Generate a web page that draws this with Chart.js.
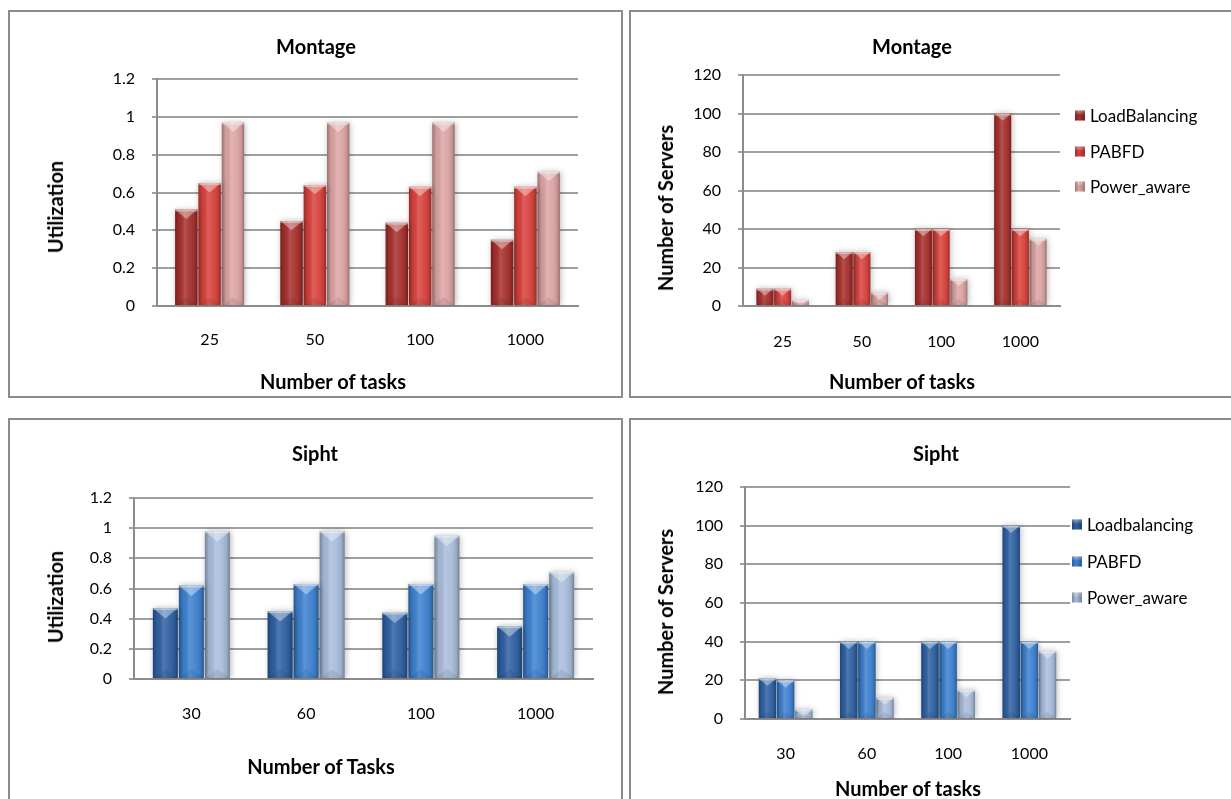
<!DOCTYPE html>
<html>
<head>
<meta charset="utf-8">
<script src="https://cdn.jsdelivr.net/npm/chart.js@4.4.1/dist/chart.umd.min.js"></script>
<style>
  body { margin: 0; width: 1231px; height: 799px; overflow: hidden; background: #fff; position: relative; font-family: Lato, sans-serif; color: #000; }
  .panel { position: absolute; border: 2px solid #8c8c8c; box-sizing: border-box; overflow: hidden; background: #fff; }
  .panel canvas { position: absolute; left: 0; top: 0; }
  .txt { position: absolute; transform: translate(-50%, -50%); white-space: nowrap; font-weight: 700; font-size: 20px; }
  .vert { transform: translate(-50%, -50%) rotate(-90deg); }
  .item { position: absolute; transform: translateY(-50%); white-space: nowrap; font-size: 17px; display: flex; align-items: center; }
  .marca { display: inline-block; width: 10px; height: 10px; margin-right: 5px; }
</style>
</head>
<body>
<script>
// Datos de las pruebas
const tareasMontage = ['25', '50', '100', '1000'];
const tareasSipht = ['30', '60', '100', '1000'];

const seriesMontage = ['LoadBalancing', 'PABFD', 'Power_aware'];
const seriesSipht = ['Loadbalancing', 'PABFD', 'Power_aware'];

const montageUtilLB = [0.51, 0.45, 0.44, 0.35];
const montageUtilPABFD = [0.65, 0.64, 0.63, 0.63];
const montageUtilPA = [0.97, 0.97, 0.97, 0.71];

const montageServLB = [9, 28, 40, 100];
const montageServPABFD = [9, 28, 40, 40];
const montageServPA = [3, 7, 14, 35];

const siphtUtilLB = [0.47, 0.45, 0.44, 0.35];
const siphtUtilPABFD = [0.62, 0.63, 0.63, 0.63];
const siphtUtilPA = [0.98, 0.98, 0.95, 0.71];

const siphtServLB = [21, 40, 40, 100];
const siphtServPABFD = [20, 40, 40, 40];
const siphtServPA = [5, 11, 15, 35];

const marcasUtil = ['0', '0.2', '0.4', '0.6', '0.8', '1', '1.2'];
const marcasServ = ['0', '20', '40', '60', '80', '100', '120'];

const rojos = ['#a62f2c', '#d8413c', '#dca4a3'];
const azules = ['#2e60a2', '#3d81d0', '#a8bcdb'];

// Sombreado de las barras (efecto cilindro)
const sombreado = {
  id: 'sombreado',
  beforeDatasetsDraw(chart) {
    const c = chart.ctx;
    c.save();
    c.shadowColor = 'rgba(0,0,0,0.28)';
    c.shadowBlur = 6;
    c.shadowOffsetX = 1;
  },
  afterDatasetsDraw(chart) {
    const c = chart.ctx;
    c.restore();
    chart.data.datasets.forEach((ds, i) => {
      chart.getDatasetMeta(i).data.forEach(bar => {
        const { x, y, base, width } = bar.getProps(['x', 'y', 'base', 'width'], true);
        const l = x - width / 2, r = x + width / 2, h = base - y;
        const g = c.createLinearGradient(l, 0, r, 0);
        g.addColorStop(0, 'rgba(0,0,0,0.30)');
        g.addColorStop(0.18, 'rgba(0,0,0,0.04)');
        g.addColorStop(0.42, 'rgba(255,255,255,0.16)');
        g.addColorStop(0.65, 'rgba(255,255,255,0.06)');
        g.addColorStop(0.88, 'rgba(0,0,0,0.10)');
        g.addColorStop(1, 'rgba(0,0,0,0.32)');
        c.fillStyle = g;
        c.fillRect(l, y, width, h);
        // tapa de arriba
        const d = Math.min(width * 0.42, h);
        c.beginPath();
        c.moveTo(l, y); c.lineTo(r, y); c.lineTo(x, y + d); c.closePath();
        c.fillStyle = 'rgba(255,255,255,0.38)';
        c.fill();
        c.fillStyle = 'rgba(255,255,255,0.35)';
        c.fillRect(l, y, width, 2);
        // base
        const b = Math.min(width * 0.35, h / 2);
        c.beginPath();
        c.moveTo(l, base); c.lineTo(r, base); c.lineTo(x, base - b); c.closePath();
        c.fillStyle = 'rgba(0,0,0,0.08)';
        c.fill();
      });
    });
  }
};

const graficos = [
  {
    caja: [8, 10, 615, 388], lienzo: [611, 384], area: [147, 568, 67, 294], padX: 16, cat: 0.665,
    titulo: ['Montage', 316, 46], ejeY: ['Utilization', 55, 207], ejeX: ['Number of tasks', 333, 381],
    etiquetas: tareasMontage, nombres: seriesMontage, valores: [montageUtilLB, montageUtilPABFD, montageUtilPA],
    colores: rojos, max: 1.2, paso: 0.2, marcas: marcasUtil
  },
  {
    caja: [629, 10, 610, 388], lienzo: [600, 384], area: [112, 429, 63, 294], padX: 18, cat: 0.67,
    titulo: ['Montage', 912, 46], ejeY: ['Number of Servers', 665, 208], ejeX: ['Number of tasks', 902, 381],
    etiquetas: tareasMontage, nombres: seriesMontage, valores: [montageServLB, montageServPABFD, montageServPA],
    colores: rojos, max: 120, paso: 20, marcas: marcasServ,
    leyenda: [1075, [115, 151, 186]]
  },
  {
    caja: [8, 418, 615, 400], lienzo: [611, 379], area: [124, 583, 78, 259], padX: 17, cat: 0.68,
    titulo: ['Sipht', 315, 453], ejeY: ['Utilization', 55, 597], ejeX: ['Number of Tasks', 321, 766],
    etiquetas: tareasSipht, nombres: seriesSipht, valores: [siphtUtilLB, siphtUtilPABFD, siphtUtilPA],
    colores: azules, max: 1.2, paso: 0.2, marcas: marcasUtil
  },
  {
    caja: [629, 418, 610, 400], lienzo: [600, 379], area: [114, 439, 67, 299], padX: 17, cat: 0.67,
    titulo: ['Sipht', 936, 453], ejeY: ['Number of Servers', 665, 612], ejeX: ['Number of tasks', 908, 788],
    etiquetas: tareasSipht, nombres: seriesSipht, valores: [siphtServLB, siphtServPABFD, siphtServPA],
    colores: azules, max: 120, paso: 20, marcas: marcasServ,
    leyenda: [1072, [524, 561, 597]]
  }
];

function texto(t, x, y, vertical) {
  const el = document.createElement('div');
  el.className = vertical ? 'txt vert' : 'txt';
  el.textContent = t;
  el.style.left = x + 'px';
  el.style.top = y + 'px';
  document.body.appendChild(el);
}

graficos.forEach(g => {
  const panel = document.createElement('div');
  panel.className = 'panel';
  panel.style.left = g.caja[0] + 'px';
  panel.style.top = g.caja[1] + 'px';
  panel.style.width = g.caja[2] + 'px';
  panel.style.height = g.caja[3] + 'px';
  const canvas = document.createElement('canvas');
  canvas.width = g.lienzo[0];
  canvas.height = g.lienzo[1];
  panel.appendChild(canvas);
  document.body.appendChild(panel);

  const [izq, der, arriba, abajo] = g.area;
  const fuente = { family: 'Lato', size: 16 };

  const chart = new Chart(canvas, {
    type: 'bar',
    data: {
      labels: g.etiquetas,
      datasets: g.nombres.map((n, i) => ({
        label: n,
        data: g.valores[i],
        backgroundColor: g.colores[i],
        borderWidth: 0,
        categoryPercentage: g.cat,
        barPercentage: 0.96
      }))
    },
    options: {
      responsive: false,
      animation: false,
      devicePixelRatio: 1,
      events: [],
      layout: {
        padding: { left: izq - 60, right: g.lienzo[0] - der, top: arriba, bottom: g.lienzo[1] - abajo - 60 }
      },
      plugins: {
        legend: { display: false },
        tooltip: { enabled: false }
      },
      scales: {
        x: {
          grid: { display: false },
          border: { display: true, color: '#8c8c8c', width: 2 },
          ticks: { color: '#000', font: fuente, padding: g.padX },
          afterFit: s => { s.height = 60; }
        },
        y: {
          min: 0,
          max: g.max,
          grid: { color: '#a0a0a0', lineWidth: 2, tickLength: 5, tickColor: '#a0a0a0' },
          border: { display: true, color: '#8c8c8c', width: 2 },
          ticks: {
            stepSize: g.paso, color: '#000', font: fuente, padding: 17,
            callback: v => g.marcas[Math.round(v / g.paso)]
          },
          afterFit: s => { s.width = 60; }
        }
      }
    },
    plugins: [sombreado]
  });

  texto(g.titulo[0], g.titulo[1], g.titulo[2]);
  texto(g.ejeY[0], g.ejeY[1], g.ejeY[2], true);
  texto(g.ejeX[0], g.ejeX[1], g.ejeX[2]);

  // Leyenda a la derecha
  if (g.leyenda) {
    chart.data.datasets.forEach((ds, i) => {
      const item = document.createElement('div');
      item.className = 'item';
      item.style.left = g.leyenda[0] + 'px';
      item.style.top = g.leyenda[1][i] + 'px';
      const m = document.createElement('span');
      m.className = 'marca';
      m.style.background = 'linear-gradient(to right, rgba(0,0,0,0.3), rgba(0,0,0,0) 40%, rgba(0,0,0,0.3)), ' +
        'linear-gradient(to bottom, rgba(255,255,255,0.5), rgba(255,255,255,0) 45%), ' + ds.backgroundColor;
      item.appendChild(m);
      item.appendChild(document.createTextNode(ds.label));
      document.body.appendChild(item);
    });
  }
});
</script>
</body>
</html>
